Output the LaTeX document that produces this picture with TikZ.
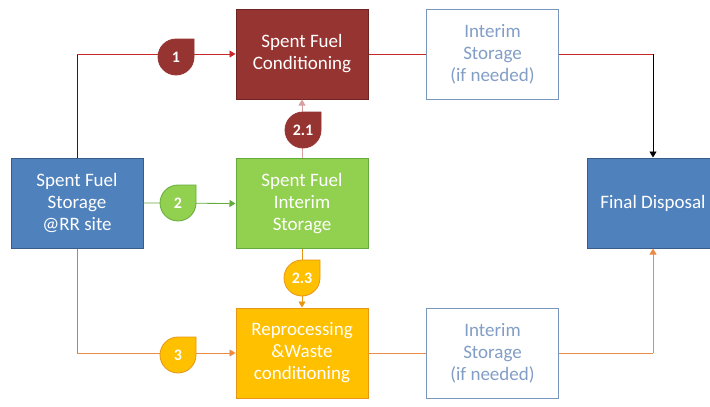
\documentclass[tikz,border=0pt]{standalone}
\usepackage{fontspec}
\setmainfont{Carlito}
\usetikzlibrary{arrows.meta}
\definecolor{rrblue}{RGB}{79,129,189}
\definecolor{rrblueline}{RGB}{56,93,138}
\definecolor{condred}{RGB}{150,52,50}
\definecolor{condline}{RGB}{110,36,34}
\definecolor{isgreen}{RGB}{146,208,80}
\definecolor{isgreenline}{RGB}{100,170,60}
\definecolor{repor}{RGB}{255,192,0}
\definecolor{reporline}{RGB}{230,150,20}
\definecolor{interimline}{RGB}{120,150,190}
\definecolor{interimtext}{RGB}{130,158,198}
\definecolor{redline}{RGB}{200,40,40}
\definecolor{orline}{RGB}{235,140,70}
\definecolor{pinkline}{RGB}{215,160,160}
\definecolor{mauveline}{RGB}{165,135,135}
\definecolor{navyline}{RGB}{30,35,55}
\tikzset{
  box/.style={draw, line width=1pt, minimum width=132pt, minimum height=90pt, align=center,
    text=white, font=\fontsize{19}{22}\selectfont, inner sep=2pt},
  interim/.style={box, fill=white, draw=interimline, text=interimtext},
  arr/.style={-{Triangle[length=6pt,width=7pt]}, line width=0.8pt},
  pics/drop/.style args={#1/#2}{code={
    \filldraw[fill=#1, draw=#2, line width=0.8pt]
      (18,0) arc[start angle=0, end angle=270, radius=18] -- (18,-18) -- cycle;
  }},
  droptext/.style={text=white, font=\fontsize{16}{18}\selectfont\bfseries, inner sep=0pt}
}
\begin{document}
\begin{tikzpicture}[x=1pt,y=-1pt]
  \useasboundingbox (0,0) rectangle (710,407);
  % boxes
  \node[box, fill=rrblue, draw=rrblueline] (rr) at (77,203) {Spent Fuel\\Storage\\@RR site};
  \node[box, fill=condred, draw=condline] (cond) at (302,54) {Spent Fuel\\Conditioning};
  \node[box, fill=isgreen, draw=isgreenline] (isf) at (302,203.5) {Spent Fuel\\Interim\\Storage};
  \node[box, fill=repor, draw=reporline] (rep) at (302,353) {Reprocessing\\\&Waste\\conditioning};
  \node[interim] (int1) at (492.5,54) {Interim\\Storage\\(if needed)};
  \node[interim] (int3) at (492.5,353) {Interim\\Storage\\(if needed)};
  \node[box, fill=rrblue, draw=rrblueline] (fd) at (653,203) {Final Disposal};
  % route 1
  \coordinate (c1) at (rr.north |- cond.west);
  \draw[navyline, line width=1pt] (rr.north) -- (c1);
  \draw[arr, redline] (c1) -- (cond.west);
  \draw[redline, line width=0.8pt] (cond.east) -- (int1.west);
  \coordinate (c4) at (fd.north |- int1.east);
  \draw[redline, line width=0.8pt] (int1.east) -- (c4);
  \draw[arr, black] (c4) -- (fd.north);
  % route 2
  \draw[arr, isgreenline] (rr.east) -- (isf.west);
  \draw[arr, pinkline] (isf.north) -- (cond.south);
  \draw[arr, reporline] (isf.south) -- (rep.north);
  % route 3
  \coordinate (c3) at (rr.south |- rep.west);
  \draw[mauveline, line width=0.8pt] (rr.south) -- (c3);
  \draw[arr, orline] (c3) -- (rep.west);
  \draw[orline, line width=0.8pt] (rep.east) -- (int3.west);
  \coordinate (c6) at (fd.south |- int3.east);
  \draw[orline, line width=0.8pt] (int3.east) -- (c6);
  \draw[arr, orline] (c6) -- (fd.south);
  % badges
  \pic at (176,57) {drop=condred/condred};
  \node[droptext] (b1) at (176,57) {1};
  \pic at (178,203) {drop=isgreen/isgreenline};
  \node[droptext] (b2) at (178,203) {2};
  \pic at (303,130) {drop=condred/condred};
  \node[droptext] (b21) at (303,130) {2.1};
  \pic at (302,278) {drop=repor/reporline};
  \node[droptext] (b23) at (302,278) {2.3};
  \pic at (178,355) {drop=repor/reporline};
  \node[droptext] (b3) at (178,355) {3};
\end{tikzpicture}
\end{document}
